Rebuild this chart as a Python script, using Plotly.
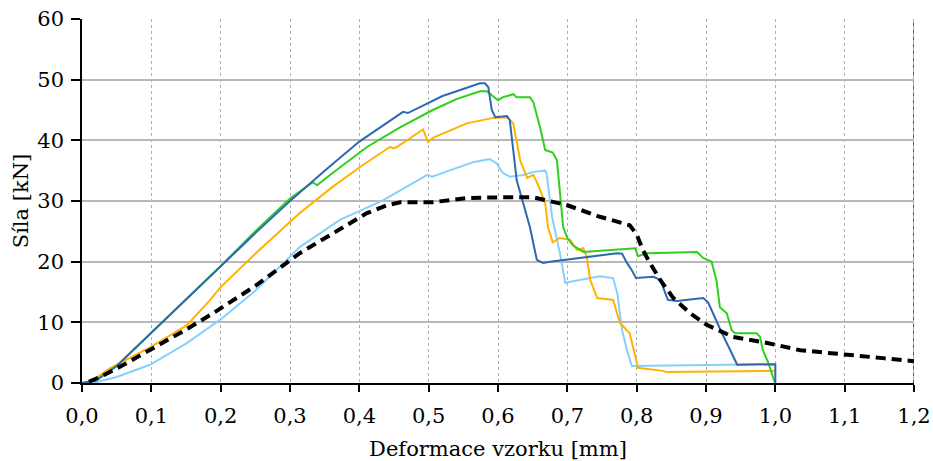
import plotly.graph_objects as go

# ---- data ----
blue_x = [0.0, 0.02, 0.05, 0.1, 0.15, 0.2, 0.25, 0.3, 0.35, 0.4, 0.459, 0.463, 0.47, 0.52, 0.574, 0.581, 0.586, 0.591, 0.596, 0.613, 0.617, 0.627, 0.646, 0.656, 0.665, 0.675, 0.772, 0.779, 0.786, 0.793, 0.799, 0.824, 0.834, 0.841, 0.845, 0.858, 0.896, 0.903, 0.916, 0.923, 0.935, 0.945, 1.0, 1.0]
blue_y = [0.0, 0.4, 2.8, 8.3, 13.8, 19.3, 24.7, 30.0, 35.0, 39.8, 44.5, 44.7, 44.5, 47.3, 49.4, 49.4, 48.8, 45.0, 43.8, 44.0, 43.3, 33.4, 25.7, 20.3, 19.8, 20.0, 21.4, 21.3, 19.8, 18.6, 17.3, 17.5, 17.0, 14.8, 13.7, 13.5, 14.0, 13.3, 9.9, 8.2, 5.4, 3.0, 3.1, 0.0]

green_x = [0.0, 0.02, 0.05, 0.1, 0.15, 0.2, 0.25, 0.3, 0.333, 0.339, 0.36, 0.411, 0.46, 0.506, 0.54, 0.574, 0.584, 0.6, 0.607, 0.622, 0.627, 0.646, 0.651, 0.661, 0.668, 0.679, 0.685, 0.694, 0.7, 0.708, 0.723, 0.798, 0.802, 0.815, 0.887, 0.896, 0.908, 0.915, 0.92, 0.93, 0.937, 0.942, 0.973, 0.978, 0.982, 0.99, 0.998, 1.0]
green_y = [0.0, 0.4, 2.8, 8.3, 13.8, 19.3, 25.0, 30.4, 33.1, 32.6, 34.5, 38.9, 42.2, 45.0, 46.8, 48.1, 48.1, 46.6, 47.1, 47.6, 47.1, 47.1, 46.3, 42.0, 38.4, 38.0, 36.7, 25.7, 23.9, 22.7, 21.6, 22.2, 20.9, 21.4, 21.6, 20.6, 20.0, 17.0, 12.5, 11.5, 8.7, 8.2, 8.2, 7.6, 5.4, 3.3, 0.5, 0.0]

orange_x = [0.01, 0.04, 0.1, 0.151, 0.185, 0.2, 0.25, 0.314, 0.36, 0.401, 0.444, 0.45, 0.454, 0.492, 0.499, 0.506, 0.555, 0.593, 0.613, 0.622, 0.632, 0.642, 0.651, 0.658, 0.668, 0.672, 0.679, 0.689, 0.704, 0.714, 0.723, 0.728, 0.733, 0.743, 0.766, 0.776, 0.79, 0.802, 0.838, 0.843, 1.0]
orange_y = [0.0, 2.4, 6.0, 9.5, 13.7, 15.8, 21.3, 28.0, 32.2, 35.6, 38.9, 38.7, 38.9, 41.8, 39.7, 40.4, 42.8, 43.7, 43.8, 42.8, 36.7, 33.8, 34.3, 32.6, 29.7, 25.7, 23.2, 23.9, 23.6, 21.9, 22.2, 20.8, 17.0, 14.0, 13.7, 9.9, 8.2, 2.5, 2.0, 1.8, 2.0]

lblue_x = [0.016, 0.05, 0.098, 0.15, 0.199, 0.25, 0.314, 0.372, 0.434, 0.498, 0.505, 0.564, 0.588, 0.598, 0.607, 0.617, 0.636, 0.651, 0.668, 0.67, 0.678, 0.685, 0.69, 0.697, 0.704, 0.747, 0.766, 0.772, 0.779, 0.786, 0.793, 1.0]
lblue_y = [0.0, 1.0, 3.0, 6.5, 10.4, 15.2, 22.4, 26.9, 30.1, 34.3, 34.0, 36.4, 36.9, 36.2, 34.6, 34.0, 34.3, 34.8, 35.0, 34.6, 27.4, 23.6, 21.0, 16.5, 16.7, 17.6, 17.3, 14.8, 8.7, 5.4, 2.8, 3.1]

model_x = [0.01, 0.03, 0.06, 0.098, 0.15, 0.189, 0.25, 0.314, 0.362, 0.411, 0.44, 0.459, 0.506, 0.555, 0.603, 0.651, 0.7, 0.747, 0.79, 0.8, 0.809, 0.819, 0.834, 0.853, 0.877, 0.901, 0.939, 0.988, 1.036, 1.098, 1.155, 1.2]
model_y = [0.2, 1.2, 3.0, 5.4, 8.8, 11.5, 16.0, 21.4, 24.7, 28.0, 29.3, 29.8, 29.8, 30.5, 30.6, 30.6, 29.3, 27.4, 26.0, 24.5, 21.9, 19.8, 17.0, 14.0, 11.5, 9.6, 7.6, 6.6, 5.4, 4.8, 4.1, 3.6]

x_ticks = [0.0, 0.1, 0.2, 0.3, 0.4, 0.5, 0.6, 0.7, 0.8, 0.9, 1.0, 1.1, 1.2]
y_ticks = [0, 10, 20, 30, 40, 50, 60]

FONT = "DejaVu Serif"
FS = 21

fig = go.Figure()
series = [
    (lblue_x, lblue_y, "#86d0ff"),
    (orange_x, orange_y, "#ffb300"),
    (green_x, green_y, "#2ed01e"),
    (blue_x, blue_y, "#2f68b0"),
]
for xs, ys, c in series:
    fig.add_trace(go.Scatter(x=xs, y=ys, mode="lines", line=dict(color=c, width=2),
                             showlegend=False, hoverinfo="skip"))
fig.add_trace(go.Scatter(x=model_x, y=model_y, mode="lines",
                         line=dict(color="black", width=4, dash="10px,6px"),
                         showlegend=False, hoverinfo="skip"))

# right border line at x = 1.2
fig.add_shape(type="line", xref="x", yref="paper", x0=1.2, x1=1.2, y0=0, y1=1,
              line=dict(color="#b0b0b0", width=2), layer="below")
fig.add_shape(type="line", xref="x", yref="paper", x0=1.2, x1=1.2, y0=0, y1=1,
              line=dict(color="black", width=1, dash="3px,4px"), layer="below")

fig.update_layout(
    width=933, height=461,
    margin=dict(l=82, r=19, t=19, b=78, autoexpand=False),
    plot_bgcolor="white", paper_bgcolor="white",
    separators=", ",
    font=dict(family=FONT, size=FS, color="black"),
    xaxis=dict(
        range=[0, 1.2], tickvals=x_ticks, tickformat=".1f",
        showgrid=True, gridcolor="#b0b0b0", griddash="dot", gridwidth=1,
        showline=True, linecolor="black", linewidth=1.5,
        ticks="outside", ticklen=7, tickwidth=1.5, tickcolor="black",
        ticklabelstandoff=6,
        zeroline=False, automargin=False,
        title=dict(text="Deformace vzorku [mm]", standoff=16, font=dict(family=FONT, size=FS)),
        tickfont=dict(family=FONT, size=FS),
    ),
    yaxis=dict(
        range=[0, 60], tickvals=y_ticks,
        showgrid=True, gridcolor="#b8b8b8", gridwidth=1.5,
        showline=True, linecolor="black", linewidth=1.5,
        ticks="outside", ticklen=9, tickwidth=1.5, tickcolor="black",
        ticklabelstandoff=3,
        zeroline=False, automargin=False,
        title=dict(text="Síla [kN]", standoff=3, font=dict(family=FONT, size=FS)),
        tickfont=dict(family=FONT, size=FS),
    ),
)

fig.write_html("out.html", config={"displayModeBar": False},
               post_script="document.body.style.margin='0';document.body.style.overflow='hidden';")
